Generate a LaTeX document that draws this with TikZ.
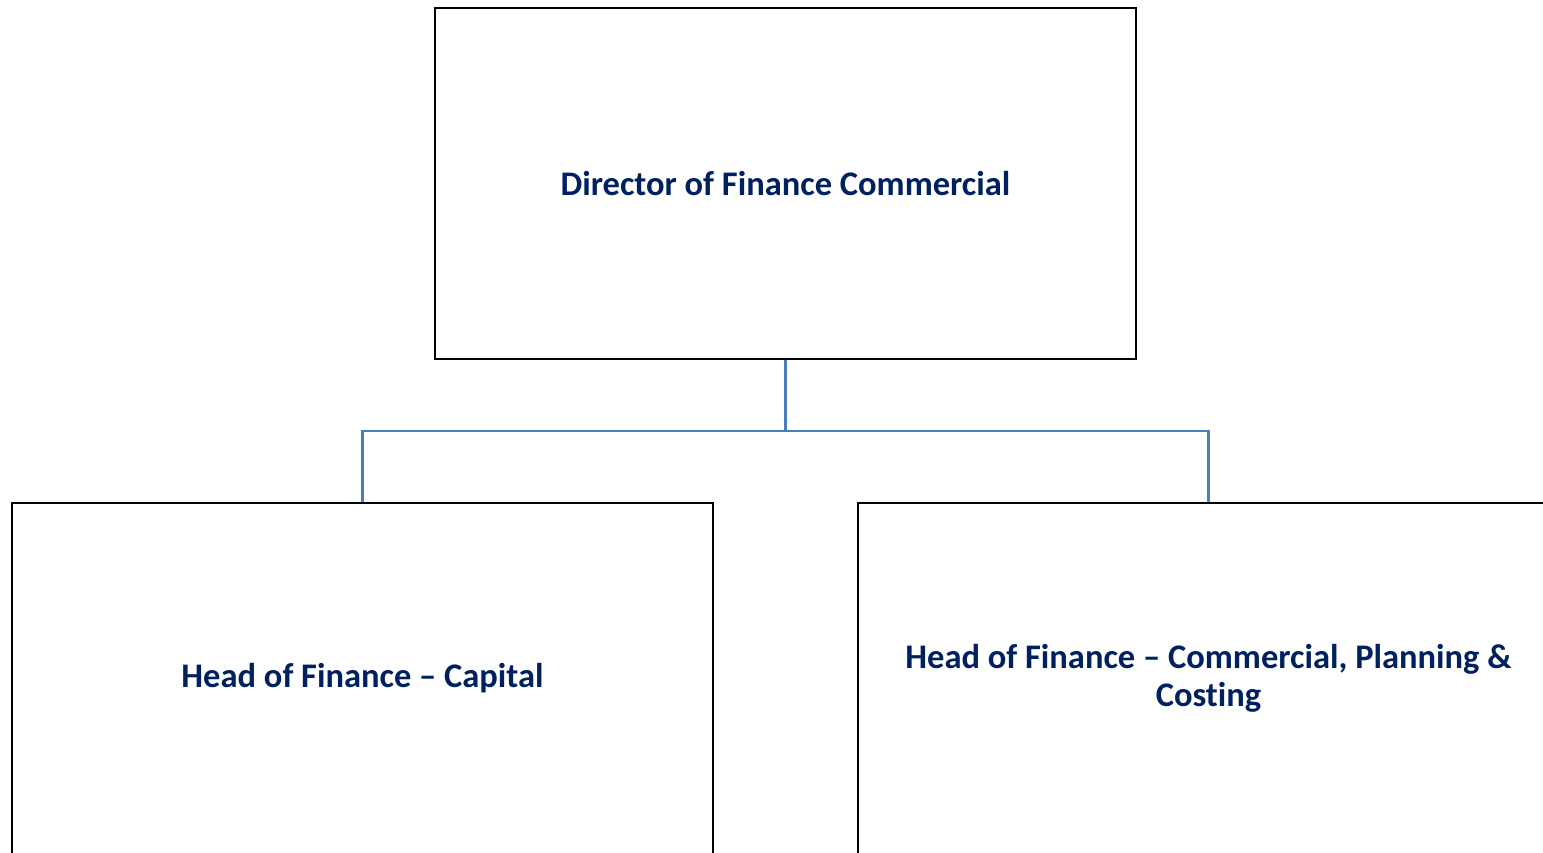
\documentclass[tikz,border=0pt]{standalone}
\usepackage{fontspec}
\setmainfont[Ligatures=NoCommon]{Carlito}
\usepackage{tikz}
\usetikzlibrary{positioning}
\definecolor{navytext}{HTML}{002060}
\definecolor{linkblue}{HTML}{4A7EBB}

\begin{document}
\begin{tikzpicture}[x=1pt, y=-1pt, post/.style={draw=black, line width=1.6pt, rectangle, minimum width=701pt, minimum height=351pt, align=center, text=navytext, font=\fontsize{34.5}{38}\selectfont\bfseries}, link/.style={draw=linkblue, line width=2.6pt}]
\useasboundingbox (0,0) rectangle (1543,852);
\clip (0,0) rectangle (1543,852);
\draw (785.5, 183.5)node[post](dir){Director of Finance Commercial};
\draw (362.5, 678.5)node[post](cap){Head of Finance -- Capital};
\draw (1208.5, 678.5)node[post](com){Head of Finance -- Commercial, Planning \&\\Costing};
\coordinate (split) at (785.5, 431);
\path[link] (dir.south) -- (split);
\path[link] (split) -| (cap.north);
\path[link] (split) -| (com.north);
\end{tikzpicture}
\end{document}
